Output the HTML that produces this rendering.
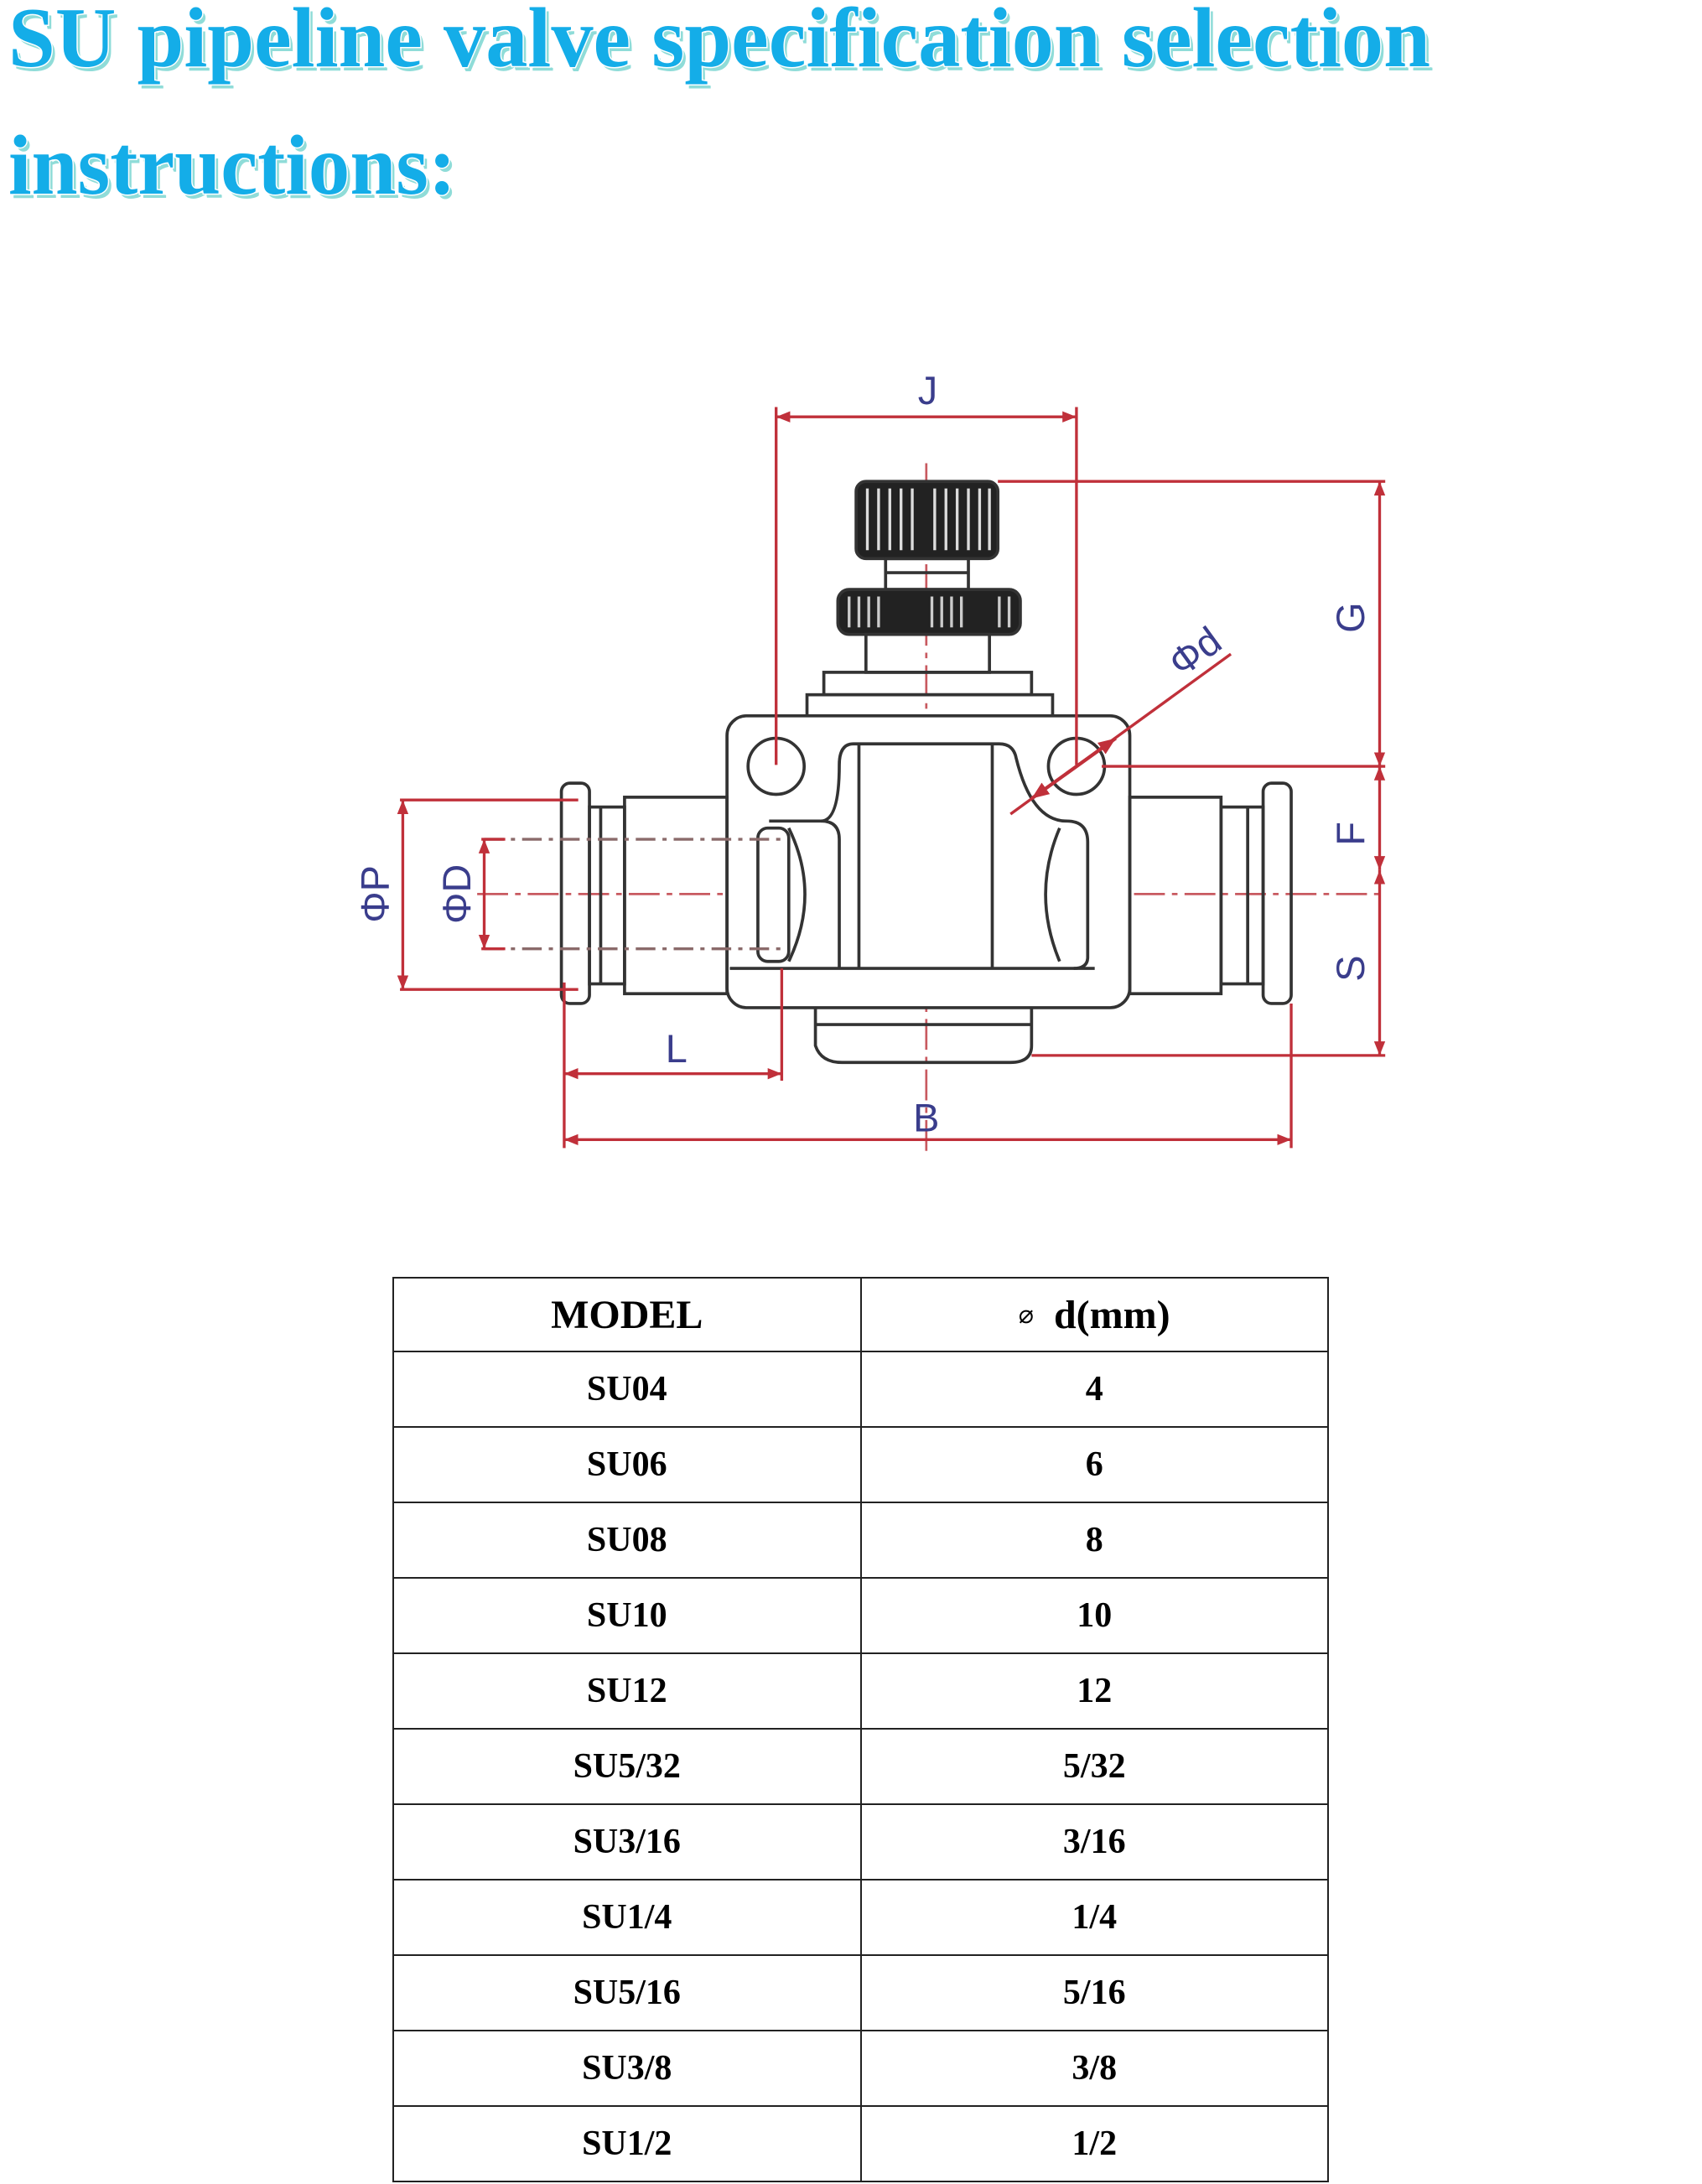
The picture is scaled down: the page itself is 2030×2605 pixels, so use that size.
<!DOCTYPE html>
<html><head><meta charset="utf-8">
<style>
html,body{margin:0;padding:0;background:#fff;}
body{width:2030px;height:2605px;position:relative;overflow:hidden;font-family:"Liberation Serif",serif;}
#title{position:absolute;left:0;top:0;}
#diag{position:absolute;left:0;top:0;}
table{position:absolute;left:468px;top:1523px;width:1117px;border-collapse:collapse;}
td{border:2px solid #222;height:88px;text-align:center;font-weight:bold;font-size:42px;padding:0;width:50%;}
tr.h td{height:86px;font-size:48px;}
</style></head><body>
<svg id="title" width="2030" height="260" viewBox="0 0 2030 260">
 <g font-family="Liberation Serif, serif" font-weight="bold" font-size="102">
  <text x="14" y="84" fill="#8fdcd8" textLength="1696" lengthAdjust="spacingAndGlyphs">SU pipeline valve specification selection</text>
  <text x="10" y="79" fill="#fff" stroke="#fff" stroke-width="3" textLength="1696" lengthAdjust="spacingAndGlyphs">SU pipeline valve specification selection</text>
  <text x="10" y="79" fill="#14ade8" textLength="1696" lengthAdjust="spacingAndGlyphs">SU pipeline valve specification selection</text>
  <text x="14" y="236" fill="#8fdcd8" textLength="534" lengthAdjust="spacingAndGlyphs">instructions:</text>
  <text x="10" y="231" fill="#fff" stroke="#fff" stroke-width="3" textLength="534" lengthAdjust="spacingAndGlyphs">instructions:</text>
  <text x="10" y="231" fill="#14ade8" textLength="534" lengthAdjust="spacingAndGlyphs">instructions:</text>
 </g>
</svg>
<svg id="diag" width="2030" height="1500" viewBox="0 0 1212.7 896">
 <defs>
  <marker id="a" viewBox="0 0 10 10" refX="10" refY="5" markerWidth="5" markerHeight="5" orient="auto-start-reverse"><path d="M0,1 L10,5 L0,9z" fill="#c0303a"/></marker>
 </defs>
 <g stroke="#c85a60" stroke-width="1.6" fill="none" stroke-dasharray="22,5,4,5">
  <line x1="340" y1="637" x2="985" y2="637"/>
  <line x1="660" y1="330" x2="660" y2="820"/>
  <line x1="540" y1="546" x2="572" y2="546" stroke-dasharray="none"/>
  <line x1="553" y1="530" x2="553" y2="562" stroke-dasharray="none"/>
 </g>
 <g stroke="#333" stroke-width="2.2" fill="none">
  <rect x="610" y="343" width="101" height="55" rx="7" fill="#222"/>
  <g stroke="#ddd" stroke-width="2">
   <line x1="618" y1="348" x2="618" y2="392"/><line x1="626" y1="348" x2="626" y2="392"/><line x1="634" y1="348" x2="634" y2="392"/><line x1="642" y1="348" x2="642" y2="392"/><line x1="650" y1="348" x2="650" y2="392"/><line x1="666" y1="348" x2="666" y2="392"/><line x1="674" y1="348" x2="674" y2="392"/><line x1="682" y1="348" x2="682" y2="392"/><line x1="690" y1="348" x2="690" y2="392"/><line x1="698" y1="348" x2="698" y2="392"/><line x1="705" y1="348" x2="705" y2="392"/>
  </g>
  <rect x="631" y="398" width="59" height="22"/>
  <line x1="631" y1="408" x2="690" y2="408"/>
  <rect x="597" y="420" width="130" height="32" rx="8" fill="#222"/>
  <g stroke="#ccc" stroke-width="2">
   <line x1="605" y1="425" x2="605" y2="447"/><line x1="612" y1="425" x2="612" y2="447"/><line x1="619" y1="425" x2="619" y2="447"/><line x1="626" y1="425" x2="626" y2="447"/><line x1="664" y1="425" x2="664" y2="447"/><line x1="671" y1="425" x2="671" y2="447"/><line x1="678" y1="425" x2="678" y2="447"/><line x1="685" y1="425" x2="685" y2="447"/><line x1="712" y1="425" x2="712" y2="447"/><line x1="719" y1="425" x2="719" y2="447"/>
  </g>
  <rect x="617" y="452" width="88" height="27"/>
  <rect x="587" y="479" width="148" height="16"/>
  <rect x="575" y="495" width="175" height="15"/>
  <rect x="518" y="510" width="287" height="208" rx="14" fill="#fff"/>
  <circle cx="553" cy="546" r="20"/>
  <circle cx="767" cy="546" r="20"/>
  <path d="M598,690 L598,598 Q598,585 585,585 L548,585"/>
  <path d="M585,585 Q598,585 598,545 Q598,530 608,530 L712,530 Q722,530 724,540 Q735,585 760,585 Q775,585 775,600 L775,682 Q775,690 765,690"/>
  <rect x="540" y="590" width="22" height="95" rx="7"/>
  <line x1="612" y1="530" x2="612" y2="690"/><line x1="707" y1="530" x2="707" y2="690"/>
  <path d="M562,590 Q585,637 562,685"/><path d="M755,590 Q735,637 755,685"/>
  <line x1="520" y1="690" x2="780" y2="690"/>
  <path d="M581,718 L581,745 Q585,757 600,757 L720,757 Q735,757 735,745 L735,718"/>
  <line x1="581" y1="730" x2="735" y2="730"/>
  <rect x="445" y="568" width="73" height="140"/>
  <rect x="420" y="575" width="25" height="126"/>
  <line x1="428" y1="575" x2="428" y2="701"/>
  <rect x="400" y="558" width="20" height="157" rx="6"/>
  <rect x="805" y="568" width="65" height="140"/>
  <rect x="870" y="575" width="30" height="126"/>
  <line x1="889" y1="575" x2="889" y2="701"/>
  <rect x="900" y="558" width="20" height="157" rx="6"/>
 </g>
 <g stroke="#8a6a6a" stroke-width="2" stroke-dasharray="14,5,3,5">
  <line x1="345" y1="598" x2="560" y2="598"/>
  <line x1="345" y1="676" x2="560" y2="676"/>
 </g>
 <g stroke="#c0303a" stroke-width="2" fill="none">
  <line x1="553" y1="290" x2="553" y2="545"/>
  <line x1="767" y1="290" x2="767" y2="545"/>
  <line x1="553" y1="297" x2="767" y2="297" marker-start="url(#a)" marker-end="url(#a)"/>
  <line x1="711" y1="343" x2="987" y2="343"/>
  <line x1="785" y1="546" x2="987" y2="546"/>
  <line x1="735" y1="752" x2="987" y2="752"/>
  <line x1="983" y1="343" x2="983" y2="546" marker-start="url(#a)" marker-end="url(#a)"/>
  <line x1="983" y1="546" x2="983" y2="620" marker-start="url(#a)" marker-end="url(#a)"/>
  <line x1="983" y1="620" x2="983" y2="752" marker-start="url(#a)" marker-end="url(#a)"/>
  <line x1="285" y1="570" x2="412" y2="570"/>
  <line x1="285" y1="705" x2="412" y2="705"/>
  <line x1="287" y1="570" x2="287" y2="705" marker-start="url(#a)" marker-end="url(#a)"/>
  <line x1="343" y1="598" x2="360" y2="598"/>
  <line x1="343" y1="676" x2="360" y2="676"/>
  <line x1="345" y1="598" x2="345" y2="676" marker-start="url(#a)" marker-end="url(#a)"/>
  <line x1="402" y1="700" x2="402" y2="818"/>
  <line x1="557" y1="690" x2="557" y2="770"/>
  <line x1="920" y1="715" x2="920" y2="818"/>
  <line x1="402" y1="765" x2="557" y2="765" marker-start="url(#a)" marker-end="url(#a)"/>
  <line x1="402" y1="812" x2="920" y2="812" marker-start="url(#a)" marker-end="url(#a)"/>
  <line x1="720" y1="580" x2="877" y2="466"/>
  <line x1="735" y1="569" x2="795" y2="526" stroke-width="2.5" marker-start="url(#a)" marker-end="url(#a)"/>
 </g>
 <g font-family="Liberation Sans, sans-serif" font-size="28" fill="#3a3d8c" text-anchor="middle">
  <text x="661" y="288">J</text>
  <text x="660" y="806">B</text>
  <text x="482" y="757">L</text>
  <text transform="translate(972,440) rotate(-90)">G</text>
  <text transform="translate(972,594) rotate(-90)">F</text>
  <text transform="translate(972,690) rotate(-90)">S</text>
  <text transform="translate(277,637) rotate(-90)">ΦP</text>
  <text transform="translate(335,637) rotate(-90)">ΦD</text>
  <text transform="translate(857,472) rotate(-36)">Φd</text>
 </g>
</svg>
<table>
<tr class="h"><td>MODEL</td><td><span style="font-family:'DejaVu Sans',sans-serif;font-weight:normal;font-size:30px;vertical-align:6px">⌀</span>&nbsp; d(mm)</td></tr>
<tr><td>SU04</td><td>4</td></tr>
<tr><td>SU06</td><td>6</td></tr>
<tr><td>SU08</td><td>8</td></tr>
<tr><td>SU10</td><td>10</td></tr>
<tr><td>SU12</td><td>12</td></tr>
<tr><td>SU5/32</td><td>5/32</td></tr>
<tr><td>SU3/16</td><td>3/16</td></tr>
<tr><td>SU1/4</td><td>1/4</td></tr>
<tr><td>SU5/16</td><td>5/16</td></tr>
<tr><td>SU3/8</td><td>3/8</td></tr>
<tr><td>SU1/2</td><td>1/2</td></tr>
</table>
</body></html>
